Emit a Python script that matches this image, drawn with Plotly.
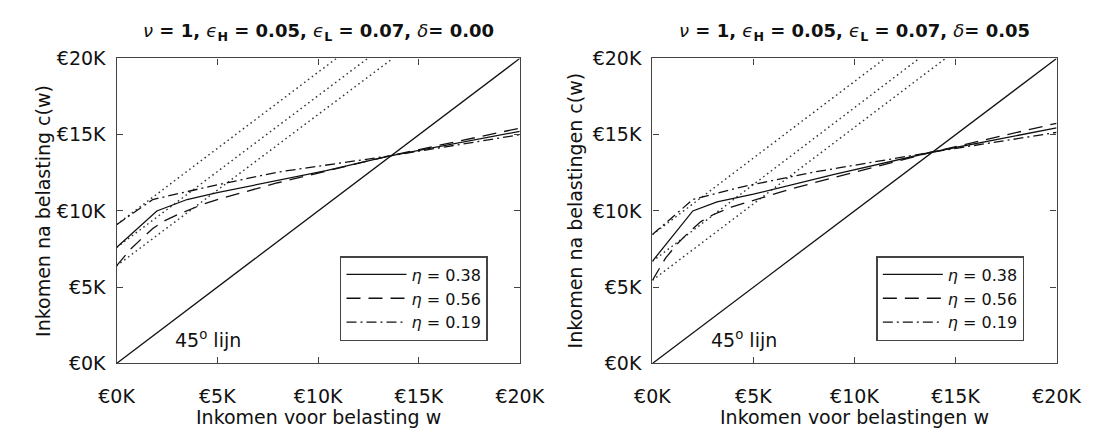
import plotly.graph_objects as go

# ---------------- data (values in thousands of euro) ----------------
tick_vals = [0, 5, 10, 15, 20]
tick_text = ["€0K", "€5K", "€10K", "€15K", "€20K"]
eta_labels = ["0.38", "0.56", "0.19"]

line45_w = [0, 20]
line45_c = [0, 20]

# Left panel: delta = 0.00
L_solid_w = [0, 2.0, 3.5, 5.0, 10.4, 13.5, 20]
L_solid_c = [7.6, 10.0, 10.75, 11.2, 12.65, 13.6, 15.22]
L_dash_w = [0, 0.7, 1.3, 1.8, 2.3, 3.1, 4.3, 5.0, 8.0, 13.5, 20]
L_dash_c = [6.4, 7.5, 8.25, 8.85, 9.3, 9.8, 10.45, 10.75, 11.85, 13.6, 15.43]
L_dd_w = [0, 1.8, 4.6, 8.0, 13.5, 20]
L_dd_c = [9.1, 10.75, 11.6, 12.55, 13.6, 15.0]
L_dot_start_c = [9.1, 7.6, 6.4]
L_dot_end_w = [10.9, 12.45, 13.7]

# Right panel: delta = 0.05
R_solid_w = [0, 2.0, 3.2, 5.0, 9.0, 13.8, 20]
R_solid_c = [6.7, 10.0, 10.6, 11.1, 12.4, 13.85, 15.45]
R_dash_w = [0, 0.65, 1.2, 1.8, 2.4, 3.0, 3.9, 5.0, 7.0, 13.8, 20]
R_dash_c = [5.45, 6.9, 7.8, 8.6, 9.3, 9.75, 10.25, 10.7, 11.5, 13.85, 15.75]
R_dd_w = [0, 2.0, 4.5, 8.0, 13.8, 20]
R_dd_c = [8.45, 10.75, 11.6, 12.55, 13.85, 15.15]
R_dot_start_c = [8.45, 6.7, 5.45]
R_dot_end_w = [11.5, 13.2, 14.5]

titles = [
    "<i>ν</i><b> = 1, </b><i>ϵ</i><sub><b>H</b></sub><b> = 0.05, </b><i>ϵ</i><sub><b>L</b></sub><b> = 0.07, </b><i>δ</i><b>= 0.00</b>",
    "<i>ν</i><b> = 1, </b><i>ϵ</i><sub><b>H</b></sub><b> = 0.05, </b><i>ϵ</i><sub><b>L</b></sub><b> = 0.07, </b><i>δ</i><b>= 0.05</b>",
]
x_titles = ["Inkomen voor belasting w", "Inkomen voor belastingen w"]
y_titles = ["Inkomen na belasting c(w)", "Inkomen na belastingen c(w)"]

# ---------------- styling ----------------
FONT = "DejaVu Sans"
W, H = 1108, 439
frame = "#444444"
dash_styles = ["solid", "14px,8px", "10px,4px,2px,4px"]
dot_style = "1.6px,3.2px"

fig = go.Figure()

panels = [
    dict(xa="x", ya="y", leg="legend",
         curves=[(L_solid_w, L_solid_c), (L_dash_w, L_dash_c), (L_dd_w, L_dd_c)],
         dots=(L_dot_start_c, L_dot_end_w)),
    dict(xa="x2", ya="y2", leg="legend2",
         curves=[(R_solid_w, R_solid_c), (R_dash_w, R_dash_c), (R_dd_w, R_dd_c)],
         dots=(R_dot_start_c, R_dot_end_w)),
]

for p in panels:
    # dotted lines c = w + c(0)
    for c0, wend in zip(*p["dots"]):
        fig.add_trace(go.Scatter(x=[0, wend], y=[c0, 20], mode="lines",
                                 line=dict(color="#333333", width=1.4, dash=dot_style),
                                 xaxis=p["xa"], yaxis=p["ya"], showlegend=False,
                                 hoverinfo="skip"))
    # 45 degree line
    fig.add_trace(go.Scatter(x=line45_w, y=line45_c, mode="lines",
                             line=dict(color="#111111", width=1.3),
                             xaxis=p["xa"], yaxis=p["ya"], showlegend=False,
                             hoverinfo="skip"))
    for (wv, cv), ds, lab in zip(p["curves"], dash_styles, eta_labels):
        fig.add_trace(go.Scatter(x=wv, y=cv, mode="lines",
                                 line=dict(color="#111111", width=1.3, dash=ds),
                                 name="<i>η</i> = " + lab,
                                 xaxis=p["xa"], yaxis=p["ya"], legend=p["leg"]))

x_domains = [[102.5 / W, 522 / W], [660 / W, 1080.5 / W]]
y_domain = [1 - 371 / H, 1 - 50 / H]

axis_common = dict(range=[0, 20], tickvals=tick_vals, ticktext=tick_text,
                   ticks="inside", ticklen=6, tickwidth=1, tickcolor=frame,
                   showline=True, linecolor=frame, linewidth=1.3, mirror="ticks",
                   showgrid=False, zeroline=False, fixedrange=True,
                   tickfont=dict(family=FONT, size=19, color="#111111"))

fig.update_layout(
    width=W, height=H, margin=dict(l=0, r=0, t=0, b=0),
    paper_bgcolor="white", plot_bgcolor="white",
    xaxis=dict(domain=x_domains[0], anchor="y", ticklabelstandoff=16, **axis_common),
    yaxis=dict(domain=y_domain, anchor="x", ticklabelstandoff=6, **axis_common),
    xaxis2=dict(domain=x_domains[1], anchor="y2", ticklabelstandoff=16, **axis_common),
    yaxis2=dict(domain=y_domain, anchor="x2", ticklabelstandoff=6, **axis_common),
)

legend_common = dict(bgcolor="white", bordercolor="#444444", borderwidth=1.5,
                     font=dict(family=FONT, size=16, color="#111111"),
                     xanchor="left", yanchor="top", itemwidth=60,
                     tracegroupgap=0)
fig.update_layout(
    legend=dict(x=335 / W, y=1 - 258 / H, **legend_common),
    legend2=dict(x=893 / W, y=1 - 258 / H, **legend_common),
)

ann = []
centers = [(102.5 + 522) / 2, (660 + 1080.5) / 2]
ytitle_x = [26.5, 580.5]
for i in range(2):
    ann.append(dict(text=titles[i], x=centers[i] / W, y=1 - 22 / H, xref="paper", yref="paper",
                    showarrow=False, xanchor="center", yanchor="middle",
                    font=dict(family=FONT, size=18, color="#111111")))
    ann.append(dict(text=x_titles[i], x=centers[i] / W, y=1 - 427 / H, xref="paper", yref="paper",
                    showarrow=False, xanchor="center", yanchor="middle",
                    font=dict(family=FONT, size=19, color="#111111")))
    ann.append(dict(text=y_titles[i], x=ytitle_x[i] / W, y=1 - 210 / H, xref="paper", yref="paper",
                    showarrow=False, xanchor="center", yanchor="middle", textangle=-90,
                    font=dict(family=FONT, size=19, color="#111111")))
xr = ["x", "x2"]
yr = ["y", "y2"]
for i in range(2):
    ann.append(dict(text="45<sup>o</sup> lijn", x=4.55, y=1.6, xref=xr[i], yref=yr[i],
                    showarrow=False, xanchor="center", yanchor="middle",
                    font=dict(family=FONT, size=19, color="#111111")))
fig.update_layout(annotations=ann)

fig.write_html("out.html")
